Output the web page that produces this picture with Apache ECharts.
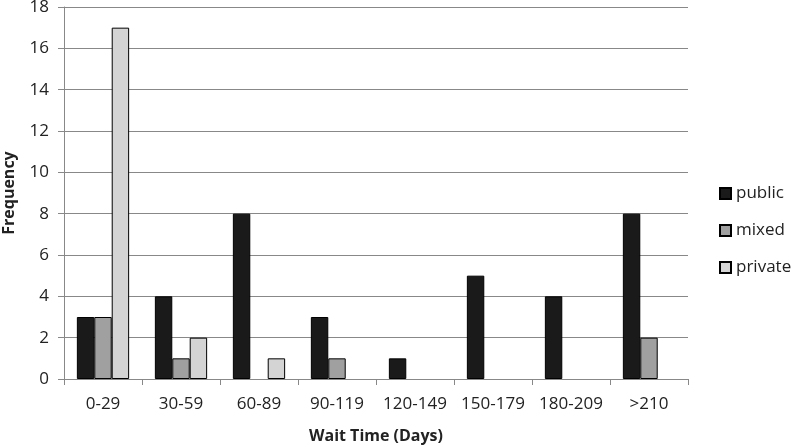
<!DOCTYPE html>
<html>
<head>
<meta charset="utf-8">
<script src="https://cdn.jsdelivr.net/npm/echarts@6/dist/echarts.min.js"></script>
<style>
  html, body { margin: 0; padding: 0; background: #fff; }
  #chart { width: 794px; height: 447px; }
</style>
</head>
<body>
<div id="chart"></div>
<script>
  var categories = ['0-29', '30-59', '60-89', '90-119', '120-149', '150-179', '180-209', '>210'];
  var publicData = [3, 4, 8, 3, 1, 5, 4, 8];
  var mixedData = [3, 1, 0, 1, 0, 0, 0, 2];
  var privateData = [17, 2, 1, 0, 0, 0, 0, 0];

  var font = '"Open Sans", "DejaVu Sans", sans-serif';
  var chart = echarts.init(document.getElementById('chart'));

  // bars with a zero value are not drawn in the reference
  function nz(arr) {
    return arr.map(function (v) { return v === 0 ? '-' : v; });
  }

  var barStyle = function (c) {
    return { color: c, borderColor: '#000', borderWidth: 1 };
  };

  var option = {
    animation: false,
    textStyle: { fontFamily: font },
    grid: { left: 64, right: 106, top: 7, bottom: 68, outerBoundsMode: 'none', containLabel: false },
    legend: {
      orient: 'vertical',
      left: 714,
      top: 180,
      icon: 'rect',
      itemWidth: 11,
      itemHeight: 11,
      itemGap: 20,
      textStyle: { fontSize: 17, color: '#222', fontFamily: font },
      data: ['public', 'mixed', 'private']
    },
    xAxis: {
      type: 'category',
      data: categories,
      name: 'Wait Time (Days)',
      nameLocation: 'middle',
      nameGap: 49,
      nameTextStyle: { fontSize: 16, fontWeight: 'bold', color: '#222' },
      axisLine: { lineStyle: { color: '#888', width: 1 } },
      axisTick: { show: true, length: 6, lineStyle: { color: '#888' } },
      axisLabel: { fontSize: 17, color: '#222', margin: 17, interval: 0, hideOverlap: false }
    },
    yAxis: {
      type: 'value',
      min: 0,
      max: 18,
      interval: 2,
      name: 'Frequency',
      nameLocation: 'middle',
      nameGap: 47,
      nameTextStyle: { fontSize: 16, fontWeight: 'bold', color: '#222' },
      axisLine: { show: true, lineStyle: { color: '#888' } },
      axisTick: { show: true, length: 6, lineStyle: { color: '#888' } },
      axisLabel: { fontSize: 17, color: '#222', margin: 15 },
      splitLine: { lineStyle: { color: '#888', width: 1 } }
    },
    series: [
      { name: 'public', type: 'bar', data: nz(publicData), barGap: '0%', barCategoryGap: '33%', itemStyle: barStyle('#1a1a1a') },
      { name: 'mixed', type: 'bar', data: nz(mixedData), itemStyle: barStyle('#a0a0a0') },
      { name: 'private', type: 'bar', data: nz(privateData), itemStyle: barStyle('#d4d4d4') }
    ]
  };
  chart.setOption(option);
</script>
</body>
</html>
